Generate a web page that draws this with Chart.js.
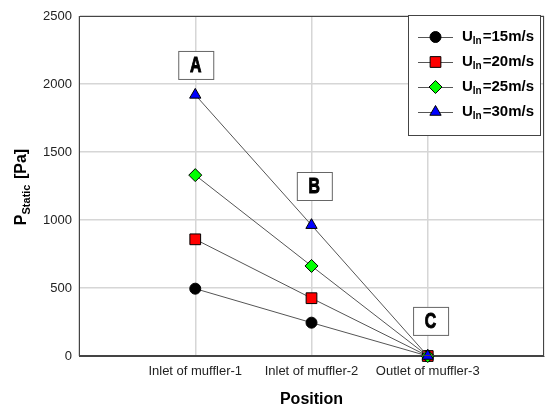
<!DOCTYPE html>
<html lang="en">
<head>
<meta charset="UTF-8">
<title>Static pressure</title>
<script src="https://cdn.jsdelivr.net/npm/chart.js@4.4.1/dist/chart.umd.min.js"></script>
<style>
  html, body { margin: 0; padding: 0; background: #fff; overflow: hidden; }
  #wrap { width: 545px; height: 409px; }
</style>
</head>
<body>
<div id="wrap"><canvas id="myChart" width="545" height="409"></canvas></div>
<script>
// data
const positions = ["Inlet of muffler-1", "Inlet of muffler-2", "Outlet of muffler-3"];
const u15 = [495, 245, 0];
const u20 = [858, 425, 0];
const u25 = [1330, 662, 0];
const u30 = [1920, 962, 0];
const seriesNames = ["15m/s", "20m/s", "25m/s", "30m/s"];
const yTicks = [0, 500, 1000, 1500, 2000, 2500];
// boxed letters, in data units (x = position index, y = Pa)
const notes = [
  { text: "A", x: 1, y: 2140 },
  { text: "B", x: 2.02, y: 1250 },
  { text: "C", x: 3.02, y: 258 }
];

const styles = [
  { pointStyle: "circle", color: "#000000", radius: 5.5 },
  { pointStyle: "rect", color: "#ff0000", radius: 7.6 },
  { pointStyle: "rectRot", color: "#00ff00", radius: 6.5 },
  { pointStyle: "triangle", color: "#0000ff", radius: 6.5 }
];
const allSeries = [u15, u20, u25, u30];

const datasets = allSeries.map((vals, k) => ({
  label: "U" + "In=" + seriesNames[k],
  data: vals.map((v, i) => ({ x: i + 1, y: v })),
  borderColor: "#555",
  borderWidth: 1,
  pointStyle: styles[k].pointStyle,
  pointRadius: styles[k].radius,
  pointHoverRadius: styles[k].radius,
  pointBackgroundColor: styles[k].color,
  pointBorderColor: "#000",
  pointBorderWidth: 1,
  clip: false,
  order: 3 - k
}));

function drawSubText(ctx, x, y, main, sub, rest, size, subSize) {
  ctx.font = "bold " + size + "px 'Liberation Sans', Arial, sans-serif";
  ctx.fillText(main, x, y);
  x += ctx.measureText(main).width;
  ctx.font = "bold " + subSize + "px 'Liberation Sans', Arial, sans-serif";
  ctx.fillText(sub, x, y + 4);
  x += ctx.measureText(sub).width + 1;
  ctx.font = "bold " + size + "px 'Liberation Sans', Arial, sans-serif";
  ctx.fillText(rest, x, y);
}

function subTextWidth(ctx, main, sub, rest, size, subSize) {
  ctx.font = "bold " + size + "px 'Liberation Sans', Arial, sans-serif";
  let w = ctx.measureText(main).width + ctx.measureText(rest).width;
  ctx.font = "bold " + subSize + "px 'Liberation Sans', Arial, sans-serif";
  return w + ctx.measureText(sub).width + 1;
}

const extras = {
  id: "extras",
  afterDatasetsDraw(chart) {
    const ctx = chart.ctx;
    const a = chart.chartArea;
    const xs = chart.scales.x, ys = chart.scales.y;
    ctx.save();
    // frame
    ctx.strokeStyle = "#444";
    ctx.lineWidth = 1;
    ctx.strokeRect(a.left + 0.5, a.top + 0.5, a.right - a.left - 1, a.bottom - a.top - 1);

    // letter boxes
    notes.forEach(n => {
      const cx = xs.getPixelForValue(n.x), cy = ys.getPixelForValue(n.y);
      ctx.fillStyle = "#fff";
      ctx.fillRect(cx - 17, cy - 14, 35, 28);
      ctx.strokeStyle = "#666";
      ctx.lineWidth = 1;
      ctx.strokeRect(cx - 17 + 0.5, cy - 14 + 0.5, 35, 28);
      ctx.save();
      ctx.translate(cx + 0.5, cy + 1);
      ctx.scale(0.72, 1);
      ctx.fillStyle = "#000";
      ctx.strokeStyle = "#000";
      ctx.lineWidth = 1;
      ctx.font = "bold 22px 'Liberation Sans', Arial, sans-serif";
      ctx.textAlign = "center";
      ctx.textBaseline = "middle";
      ctx.fillText(n.text, 0, 0);
      ctx.strokeText(n.text, 0, 0);
      ctx.restore();
    });

    // legend
    const lx = 408, ly = 15, lw = 132, lh = 120;
    ctx.fillStyle = "#fff";
    ctx.fillRect(lx, ly, lw, lh);
    ctx.strokeStyle = "#444";
    ctx.strokeRect(lx + 0.5, ly + 0.5, lw, lh);
    ctx.textAlign = "left";
    ctx.textBaseline = "middle";
    styles.forEach((s, k) => {
      const y = 37 + k * 25;
      ctx.strokeStyle = "#555";
      ctx.lineWidth = 1;
      ctx.beginPath();
      ctx.moveTo(418, y + 0.5);
      ctx.lineTo(453, y + 0.5);
      ctx.stroke();
      ctx.fillStyle = s.color;
      ctx.strokeStyle = "#000";
      Chart.helpers.drawPoint(ctx, { pointStyle: s.pointStyle, radius: s.radius, rotation: 0, borderWidth: 1 }, 435.5, y);
      ctx.fillStyle = "#000";
      drawSubText(ctx, 462, y, "U", "In", "=" + seriesNames[k], 15, 10);
    });

    // axis titles
    ctx.fillStyle = "#000";
    ctx.textAlign = "center";
    ctx.textBaseline = "middle";
    ctx.font = "bold 16px 'Liberation Sans', Arial, sans-serif";
    ctx.fillText("Position", (a.left + a.right) / 2, 400);

    ctx.translate(26, 187);
    ctx.rotate(-Math.PI / 2);
    ctx.textAlign = "left";
    ctx.textBaseline = "alphabetic";
    const w = subTextWidth(ctx, "P", "Static", " [Pa]", 16, 11);
    drawSubText(ctx, -w / 2, 0, "P", "Static", " [Pa]", 16, 11);
    ctx.restore();
  }
};

new Chart("myChart", {
  type: "line",
  data: { datasets: datasets },
  options: {
    responsive: false,
    animation: false,
    events: [],
    layout: { autoPadding: false, padding: { top: 16, right: 1, left: 0, bottom: 0 } },
    plugins: { legend: { display: false }, tooltip: { enabled: false } },
    scales: {
      x: {
        type: "linear",
        min: 0,
        max: 4,
        afterFit(scale) { scale.height = 53; scale.paddingLeft = 0; scale.paddingRight = 0; },
        afterBuildTicks(scale) { scale.ticks = [0, 1, 2, 3, 4].map(v => ({ value: v })); },
        ticks: {
          padding: 8,
          maxRotation: 0,
          autoSkip: false,
          color: "#222",
          font: { family: "'Liberation Sans', Arial, sans-serif", size: 13 },
          callback: v => positions[v - 1] || ""
        },
        grid: { color: "#d6d6d6", lineWidth: 1.5, drawTicks: false },
        border: { color: "#444", width: 1 }
      },
      y: {
        min: 0,
        max: 2500,
        afterFit(scale) { scale.width = 79; scale.paddingTop = 0; scale.paddingBottom = 0; },
        afterBuildTicks(scale) { scale.ticks = yTicks.map(v => ({ value: v })); },
        ticks: {
          padding: 7,
          color: "#222",
          font: { family: "'Liberation Sans', Arial, sans-serif", size: 13 },
          callback: v => String(v)
        },
        grid: { color: "#d6d6d6", lineWidth: 1.5, drawTicks: false },
        border: { color: "#444", width: 1 }
      }
    }
  },
  plugins: [extras]
});
</script>
</body>
</html>
